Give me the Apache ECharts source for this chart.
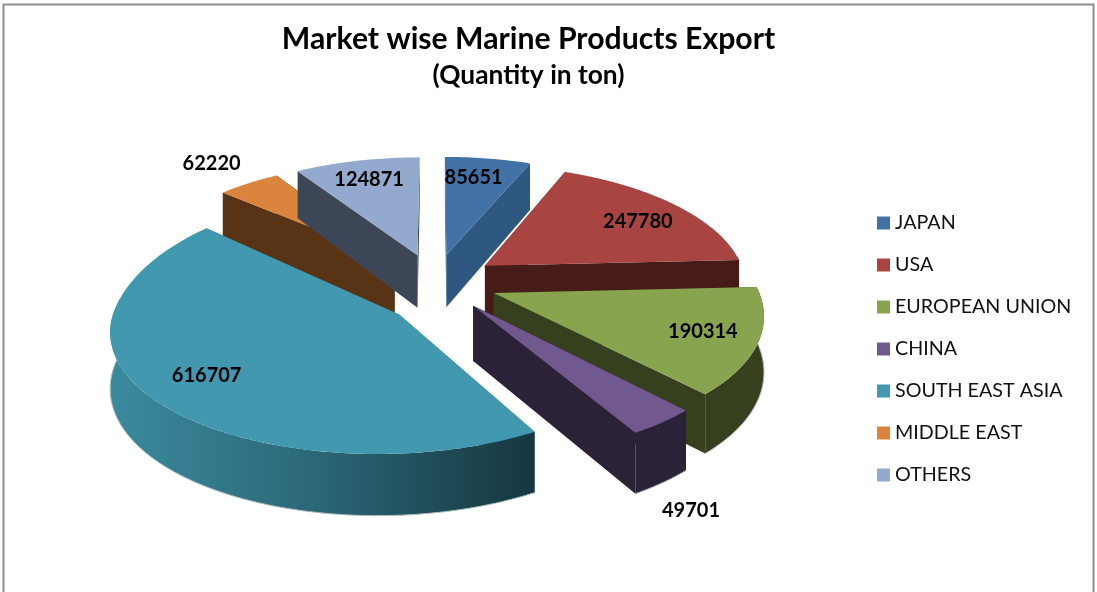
<!DOCTYPE html>
<html>
<head>
<meta charset="utf-8">
<style>
  html, body { margin: 0; padding: 0; background: #fff; }
  #main { width: 1097px; height: 592px; overflow: hidden; }
</style>
<script src="https://cdn.jsdelivr.net/npm/echarts@6/dist/echarts.min.js"></script>
</head>
<body>
<div id="main"></div>
<script>
var categories = ['JAPAN', 'USA', 'EUROPEAN UNION', 'CHINA', 'SOUTH EAST ASIA', 'MIDDLE EAST', 'OTHERS'];
var quantities = [85651, 247780, 190314, 49701, 616707, 62220, 124871];

var topColors = ['#4271a6', '#a84543', '#89a44e', '#71588f', '#4198af', '#db843d', '#93a9ce'];
var wallColors = ['#2f5880', '#471b18', '#363f1e', '#2c2238', '#2d6b7c', '#583316', '#3c4657'];

// paint order, back to front
var paintOrder = [1, 3, 4, 7, 6, 2, 5];   // z of each slice
var labelRadius = [0.78, 0.76, 0.80, 1.43, 0.76, 1.29, 0.78];
var labelTurn = [-2, 3, 0, 11, 1.5, 0, 0];
// the big slice is off the common explosion and flatter in front than behind
var sliceShift = [[0, 0], [0, 0], [0, 0], [0, 0], [0.005, 0.077], [0, 0], [0, 0]];
var apexShift = [[0, 0], [0, 0], [0, 0], [0, 0], [0.05, 0.03], [0, 0], [0, 0]];
var flattenFront = [1, 1, 1, 1, 0.95, 1, 1];
var flattenBack = [1, 1, 1, 1, 1.08, 1, 1];

// fake 3d projection of the pie plane
var pie = { cx: 434.6, cy: 282, rx: 262, ry: 120, persp: 0.15, explode: 0.24, depth: 54 };

var total = quantities.reduce(function (a, b) { return a + b; }, 0);
var startAngles = [];
quantities.reduce(function (acc, q, i) {
  startAngles[i] = acc;
  return acc + q / total * 360;
}, 0);

function project(u, v, down) {
  var s = 1 - pie.persp * v;
  return [
    pie.cx + pie.rx * u / s,
    pie.cy + pie.ry * v / s + (down ? pie.depth * (1 + 0.12 * v) : 0)
  ];
}
function rad(deg) { return deg * Math.PI / 180; }

function renderSlice(i, params, api) {
  var value = api.value(0);
  var a0 = startAngles[i];
  var a1 = a0 + value / total * 360;
  var mid = (a0 + a1) / 2;
  var u0 = pie.explode * Math.sin(rad(mid)) + sliceShift[i][0];
  var v0 = -pie.explode * Math.cos(rad(mid)) + sliceShift[i][1];
  var apexU = u0 + apexShift[i][0];
  var apexV = v0 + apexShift[i][1];

  function rim(a, down) {
    var c = Math.cos(rad(a));
    return project(u0 + Math.sin(rad(a)), v0 - (c > 0 ? flattenBack[i] : flattenFront[i]) * c, down);
  }
  function arc(from, to, down) {
    var pts = [];
    var n = Math.max(2, Math.ceil(Math.abs(to - from)));
    for (var k = 0; k <= n; k++) pts.push(rim(from + (to - from) * k / n, down));
    return pts;
  }
  function cutWall(a) {
    return {
      type: 'polygon',
      shape: { points: [project(apexU, apexV), rim(a), rim(a, true), project(apexU, apexV, true)] },
      style: { fill: wallColors[i] }
    };
  }

  var wallFill = wallColors[i];
  if (i === 4) {
    wallFill = {
      type: 'linear', x: 0, y: 0, x2: 1, y2: 0,
      colorStops: [
        { offset: 0, color: '#3b8a9e' },
        { offset: 0.45, color: '#2c6a7a' },
        { offset: 1, color: '#163740' }
      ]
    };
  }

  var children = [cutWall(a0), cutWall(a1)];
  var f0 = Math.max(a0, 85), f1 = Math.min(a1, 275);
  if (f1 > f0) {
    children.push({
      type: 'polygon',
      shape: { points: arc(f0, f1, false).concat(arc(f1, f0, true)) },
      style: { fill: wallFill }
    });
    children.push({
      type: 'polyline',
      shape: { points: arc(f0, f1, true) },
      style: { fill: 'none', stroke: '#aebcbf', lineWidth: 1 }
    });
  }
  children.push({
    type: 'polygon',
    shape: { points: [project(apexU, apexV)].concat(arc(a0, a1, false)) },
    style: { fill: topColors[i] }
  });

  var la = rad(mid + labelTurn[i]);
  var lp = project(u0 + labelRadius[i] * Math.sin(la), v0 - labelRadius[i] * Math.cos(la));
  children.push({
    type: 'text',
    z2: 10,
    style: {
      text: String(value), x: lp[0], y: lp[1],
      font: 'bold 20px Lato', fill: '#000',
      align: 'center', verticalAlign: 'middle'
    }
  });
  return { type: 'group', children: children };
}

var series = categories.map(function (name, i) {
  return {
    name: name,
    type: 'custom',
    coordinateSystem: 'none',
    z: paintOrder[i] + 2,
    silent: true,
    itemStyle: { color: topColors[i] },
    data: [[quantities[i]]],
    renderItem: function (params, api) { return renderSlice(i, params, api); }
  };
});

var myChart = echarts.init(document.getElementById('main'));
myChart.setOption({
  animation: false,
  backgroundColor: '#fff',
  title: {
    text: 'Market wise Marine Products Export',
    subtext: '(Quantity in ton)',
    left: 523.5,
    top: 19,
    textAlign: 'center',
    itemGap: 9,
    textStyle: { fontFamily: 'Lato', fontSize: 30.2, fontWeight: 'bold', color: '#000' },
    subtextStyle: { fontFamily: 'Lato', fontSize: 26.3, fontWeight: 'bold', color: '#000' }
  },
  legend: {
    orient: 'vertical',
    left: 877,
    top: 213,
    padding: 0,
    icon: 'rect',
    itemWidth: 13,
    itemHeight: 13,
    itemGap: 22,
    selectedMode: false,
    data: categories,
    textStyle: { fontFamily: 'Lato', fontSize: 19.7, color: '#111', lineHeight: 20 }
  },
  graphic: [{
    type: 'rect',
    z: -1,
    shape: { x: 3.5, y: 4.5, width: 1090, height: 640 },
    style: { fill: 'none', stroke: '#8f8f8f', lineWidth: 2 }
  }],
  series: series
});
</script>
</body>
</html>
